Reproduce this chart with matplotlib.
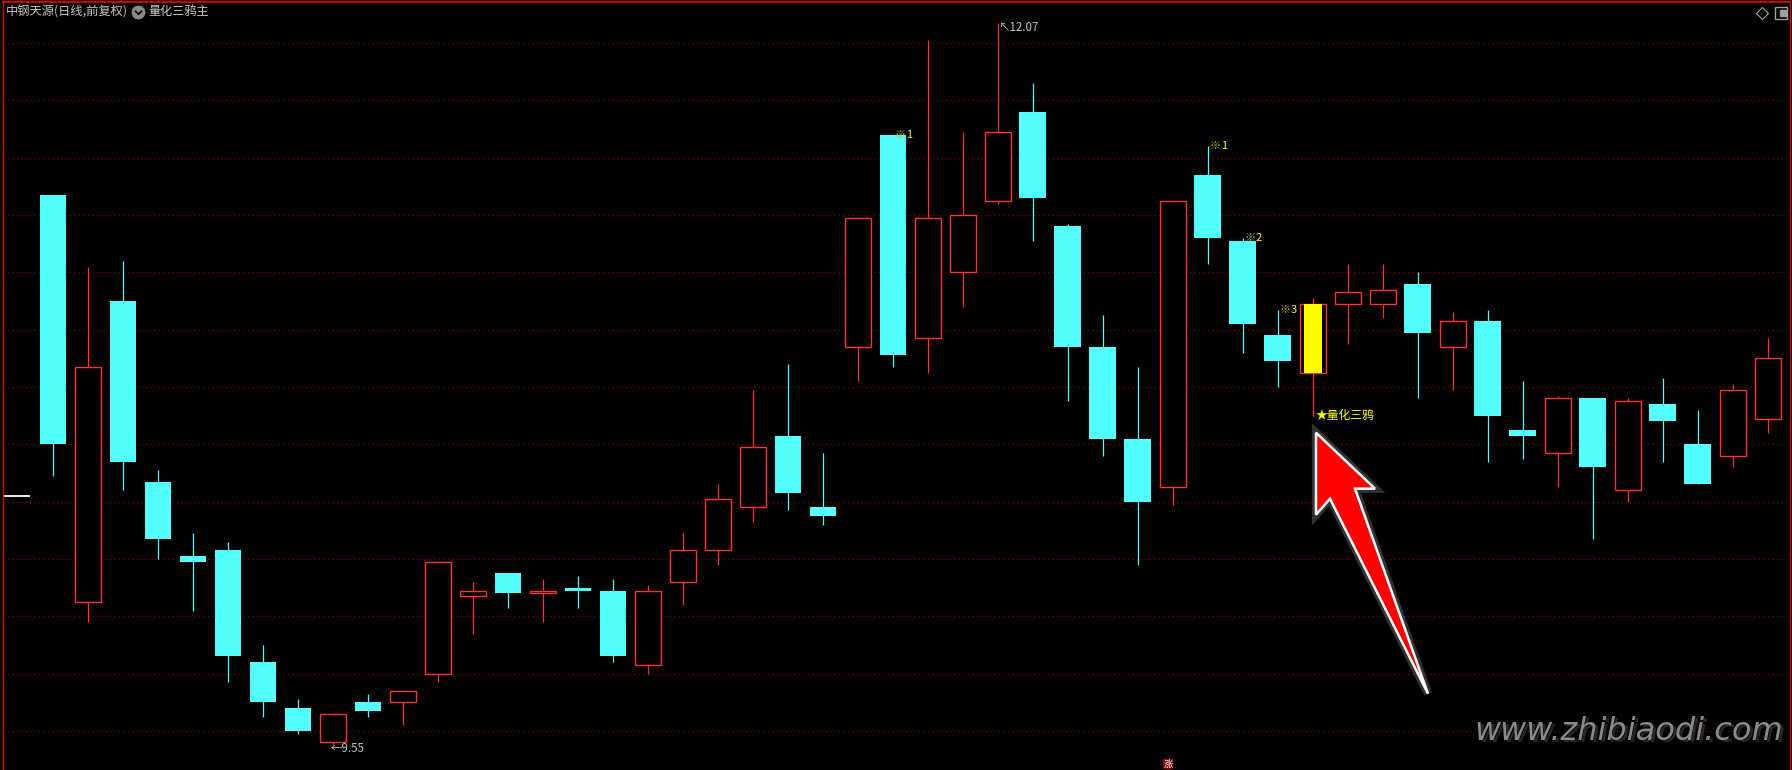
import matplotlib
matplotlib.use('Agg')
import matplotlib.pyplot as plt
import matplotlib.patheffects as pe
from matplotlib.lines import Line2D
from matplotlib.patches import Polygon
from matplotlib.path import Path
from matplotlib.transforms import IdentityTransform
import numpy as np

plt.rcParams['font.family'] = ['Noto Sans CJK SC', 'DejaVu Sans']

# daily bars, 前复权
opens  = [11.47, 10.05, 11.10, 10.47, 10.21, 10.23, 9.84, 9.68, 9.56, 9.70,
          9.70, 9.80, 10.07, 10.15, 10.08, 10.10, 10.09, 9.83, 10.12, 10.23,
          10.38, 10.63, 10.38, 10.94, 11.68, 10.97, 11.20, 11.45, 11.76, 11.36,
          10.94, 10.62, 10.45, 11.54, 11.31, 10.98, 10.85, 11.09, 11.09, 11.16,
          10.94, 11.03, 10.65, 10.57, 10.76, 10.44, 10.74, 10.60, 10.56, 10.69]
closes = [10.60, 10.87, 10.54, 10.27, 10.19, 9.86, 9.70, 9.60, 9.66, 9.67,
          9.74, 10.19, 10.09, 10.08, 10.09, 10.09, 9.86, 10.09, 10.23, 10.41,
          10.59, 10.43, 10.35, 11.39, 10.91, 11.39, 11.40, 11.69, 11.46, 10.94,
          10.62, 10.40, 11.45, 11.32, 11.02, 10.89, 11.09, 11.13, 11.14, 10.99,
          11.03, 10.70, 10.63, 10.76, 10.52, 10.75, 10.68, 10.46, 10.79, 10.90]
highs  = [11.47, 11.22, 11.24, 10.51, 10.29, 10.26, 9.90, 9.71, 9.66, 9.73,
          9.74, 10.19, 10.12, 10.15, 10.13, 10.14, 10.13, 10.11, 10.29, 10.46,
          10.79, 10.88, 10.57, 11.39, 11.68, 12.01, 11.69, 12.07, 11.86, 11.37,
          11.05, 10.87, 11.45, 11.64, 11.32, 11.07, 11.11, 11.23, 11.23, 11.20,
          11.06, 11.07, 10.82, 10.77, 10.76, 10.76, 10.83, 10.72, 10.81, 10.97]
lows   = [10.49, 9.98, 10.44, 10.20, 10.02, 9.77, 9.65, 9.59, 9.55, 9.65,
          9.62, 9.77, 9.94, 10.03, 9.98, 10.03, 9.84, 9.80, 10.04, 10.18,
          10.33, 10.37, 10.32, 10.82, 10.87, 10.85, 11.08, 11.44, 11.31, 10.75,
          10.56, 10.18, 10.39, 11.23, 10.92, 10.80, 10.70, 10.95, 11.04, 10.76,
          10.79, 10.54, 10.55, 10.45, 10.27, 10.40, 10.54, 10.46, 10.52, 10.64]

# indicator marks
crow_marks = {24: '1', 33: '1', 34: '2', 35: '3'}
signal_bar = 36
signal_text = '★量化三鸦'
grid_levels = [9.6, 9.8, 10.0, 10.2, 10.4, 10.6, 10.8, 11.0, 11.2, 11.4, 11.6, 11.8, 12.0]
left_marker_price = 10.42
rise_bar = 32

RED = '#ff3232'
CYAN = '#54ffff'
YELLOW = '#ffff00'
GRID = '#a00000'
FRAME = '#c80000'

W, H = 1792, 770
fig = plt.figure(figsize=(W / 100, H / 100), dpi=100, facecolor='black')
ax = fig.add_axes([3 / W, 0, 1787 / W, 768 / H])
ax.set_facecolor('black')
ax.set_xlim(-1.4286, 49.629)
ax.set_ylim(9.464, 12.143)

x = np.arange(len(opens))
o = np.array(opens)
c = np.array(closes)
h = np.array(highs)
l = np.array(lows)
up = c >= o

# grid
ax.set_yticks(grid_levels)
ax.set_xticks([])
ax.tick_params(left=False, labelleft=False)
ax.grid(axis='y', color=GRID, linestyle=(0, (1, 3)), lw=0.8)
ax.set_axisbelow(True)
for side in ['top', 'left', 'right']:
    ax.spines[side].set_color(FRAME)
ax.spines['top'].set_linewidth(1.5)
ax.spines['left'].set_linewidth(1.0)
ax.spines['right'].set_linewidth(1.0)
ax.spines['bottom'].set_visible(False)

# falling bars
ax.vlines(x[~up], l[~up], h[~up], color=CYAN, lw=0.9)
ax.bar(x[~up], o[~up] - c[~up], bottom=c[~up], width=0.771, color=CYAN, lw=0)

# rising bars: hollow
ax.vlines(x[up], c[up], h[up], color=RED, lw=0.9)
ax.vlines(x[up], l[up], o[up], color=RED, lw=0.9)
ax.bar(x[up], c[up] - o[up], bottom=o[up], width=0.743, facecolor='black',
       edgecolor=RED, lw=1.0)

# highlighted signal bar
ax.bar(signal_bar, closes[signal_bar] - opens[signal_bar], bottom=opens[signal_bar],
       width=0.54, color=YELLOW, lw=0, zorder=3)

# ※ marks
for i, n in crow_marks.items():
    ax.annotate('※', (i, highs[i]), xytext=(2, 0), textcoords='offset pixels',
                color='#b8b800', fontsize=8, va='center', ha='left')
    ax.annotate(n, (i, highs[i]), xytext=(13, 0), textcoords='offset pixels',
                color=YELLOW, fontsize=8, va='center', ha='left')

ax.annotate(signal_text, (signal_bar, lows[signal_bar]), xytext=(3, 0),
            textcoords='offset pixels', color=YELLOW, fontsize=8.5,
            va='center', ha='left')

# high / low labels
hi = int(np.argmax(h))
lo = int(np.argmin(l))
ax.annotate('↖' + f'{highs[hi]:.2f}', (hi, highs[hi]), xytext=(0, -5),
            textcoords='offset pixels', color='#c0c0c0', fontsize=8.3,
            va='center', ha='left')
ax.annotate('←' + f'{lows[lo]:.2f}', (lo, lows[lo]), xytext=(-2, -3),
            textcoords='offset pixels', color='#c0c0c0', fontsize=8.3,
            va='center', ha='left')

# small white level mark at left edge
ax.hlines(left_marker_price, -1.40, -0.66, color='white', lw=1.3)

# 涨 tag at bottom
ax.annotate('涨', (rise_bar, 0), xycoords=('data', 'axes fraction'),
            xytext=(-5, 6), textcoords='offset pixels', color='white',
            fontsize=6.5, ha='center', va='center',
            bbox=dict(boxstyle='square,pad=0.1', fc='#8b0000', ec='none'))

# big red arrow pointing at the signal bar
fig.canvas.draw()
ax_, ay_ = ax.transData.transform((signal_bar, lows[signal_bar]))
shape = [(3, 17), (62, 73), (42, 73), (115, 278), (17, 83), (3, 99)]
verts = [(ax_ + dx, ay_ - dy) for dx, dy in shape]
arrow = Polygon(verts, closed=True, facecolor='#ff0000', edgecolor='white',
                lw=1.8, joinstyle='miter', transform=IdentityTransform(),
                path_effects=[pe.Stroke(linewidth=6, foreground='#909090', alpha=0.35),
                              pe.Normal()])
fig.add_artist(arrow)

# header
ty = 1 - 12 / H
fig.text(6 / W, ty, '中钢天源(日线,前复权)', color='#c8c8c8', fontsize=8.8,
         va='center', ha='left')
fig.add_artist(Line2D([138 / W], [ty], marker='o', markersize=9,
                      color='#8a8a8a', transform=fig.transFigure))
chev = Path([(-1, 0.5), (0, -0.5), (1, 0.5)])
fig.add_artist(Line2D([138 / W], [ty], marker=chev, markersize=5,
                      markerfacecolor='none', markeredgecolor='black',
                      markeredgewidth=1.2, transform=fig.transFigure))
fig.text(148 / W, ty, '量化三鸦主', color='#c8c8c8', fontsize=8.7,
         va='center', ha='left')

# top-right icons
fig.add_artist(Line2D([1762 / W], [1 - 13 / H], marker='D', markersize=6,
                      markerfacecolor='none', markeredgecolor='#a0a0a0',
                      markeredgewidth=0.8, transform=fig.transFigure))
fig.add_artist(Line2D([1781 / W], [1 - 13 / H], marker='s', markersize=8,
                      markerfacecolor='none', markeredgecolor='#a0a0a0',
                      markeredgewidth=1.0, transform=fig.transFigure))
fig.add_artist(Line2D([1783 / W], [1 - 13 / H], marker='s', markersize=4,
                      color='#a0a0a0', transform=fig.transFigure))

# watermark
fig.text(1477 / W, 1 - 734 / H, 'www.zhibiaodi.com', color='#262626',
         fontsize=23, family='DejaVu Sans', style='oblique', va='center', ha='left')
fig.text(1474 / W, 1 - 731 / H, 'www.zhibiaodi.com', color='#8a8a8a',
         fontsize=23, family='DejaVu Sans', style='oblique', va='center', ha='left')

fig.savefig('out.png', dpi=100, facecolor='black')
